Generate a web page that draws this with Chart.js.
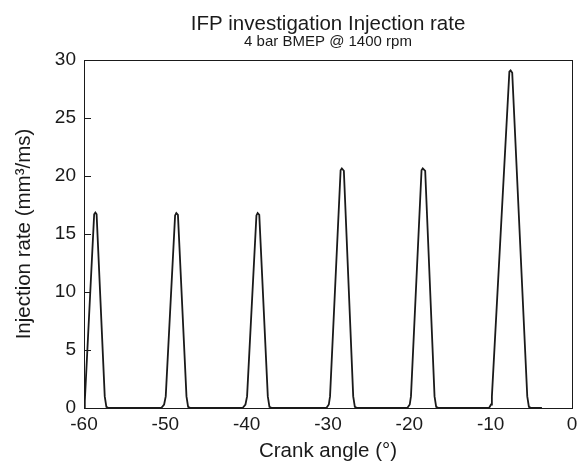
<!DOCTYPE html>
<html>
<head>
<meta charset="utf-8">
<script src="https://cdn.jsdelivr.net/npm/chart.js@4"></script>
<style>
  html, body { margin: 0; padding: 0; background: #fff; }
  #wrap { width: 577px; height: 462px; }
</style>
</head>
<body>
<div id="wrap"><canvas id="rateChart" width="577" height="462"></canvas></div>
<script>
// injection rate trace (crank angle in deg, rate in mm3/ms)
const crankAngle = [
  -60, -59.9, -58.75, -58.6, -58.45, -57.45, -57.25, -57.0,
  -50.5, -50.15, -49.95, -48.8, -48.65, -48.45, -47.4, -47.2, -46.9,
  -40.5, -40.15, -39.95, -38.8, -38.65, -38.45, -37.4, -37.2, -36.9,
  -30.2, -29.9, -29.75, -28.45, -28.3, -28.05, -26.9, -26.7, -26.4,
  -20.25, -19.95, -19.8, -18.5, -18.35, -18.05, -16.9, -16.7, -16.4,
  -10.2, -9.95, -9.85, -7.7, -7.55, -7.35, -5.5, -5.3, -5.0, -3.7
];
const injectionRate = [
  0, 0.6, 16.7, 16.85, 16.7, 1.0, 0.1, 0,
  0, 0.3, 1.0, 16.6, 16.8, 16.65, 1.0, 0.1, 0,
  0, 0.3, 1.0, 16.6, 16.8, 16.65, 1.0, 0.1, 0,
  0, 0.3, 1.0, 20.5, 20.65, 20.45, 1.0, 0.1, 0,
  0, 0.3, 1.0, 20.5, 20.65, 20.45, 1.0, 0.1, 0,
  0, 0.3, 1.0, 29.0, 29.1, 28.9, 1.0, 0.1, 0, 0
];
const xTicks = [-60, -50, -40, -30, -20, -10, 0];
const yTicks = [0, 5, 10, 15, 20, 25, 30];

const ink = '#1a1a1a';
const font = 'Liberation Sans, Arial, Helvetica, sans-serif';

// box around the plot plus small inward ticks on the left axis
const frame = {
  id: 'frame',
  afterDraw(chart) {
    const { ctx, chartArea: a, scales } = chart;
    ctx.save();
    ctx.strokeStyle = ink;
    ctx.lineWidth = 1;
    ctx.strokeRect(a.left + 0.5, a.top + 0.5, a.right - a.left, a.bottom - a.top);
    ctx.beginPath();
    yTicks.slice(1, -1).forEach(v => {
      const y = Math.round(scales.y.getPixelForValue(v)) + 0.5;
      ctx.moveTo(a.left, y);
      ctx.lineTo(a.left + 7, y);
    });
    ctx.stroke();
    ctx.restore();
  }
};

new Chart(document.getElementById('rateChart').getContext('2d'), {
  type: 'line',
  data: {
    datasets: [{
      data: crankAngle.map((a, i) => ({ x: a, y: injectionRate[i] })),
      borderColor: ink,
      borderWidth: 1.8,
      pointRadius: 0,
      tension: 0
    }]
  },
  options: {
    responsive: false,
    animation: false,
    layout: { padding: { left: 0, right: 0, top: 0, bottom: 0 } },
    plugins: {
      legend: { display: false },
      tooltip: { enabled: false },
      title: {
        display: true,
        fullSize: false,
        text: 'IFP investigation Injection rate',
        color: ink,
        font: { family: font, size: 20.5, weight: 'normal', lineHeight: 1 },
        padding: { top: 14, bottom: 0 }
      },
      subtitle: {
        display: true,
        fullSize: false,
        text: '4 bar BMEP @ 1400 rpm',
        color: ink,
        font: { family: font, size: 15, weight: 'normal', lineHeight: 1 },
        padding: { top: 0, bottom: 10.5 }
      }
    },
    scales: {
      x: {
        type: 'linear',
        min: -60,
        max: 0,
        afterBuildTicks: s => { s.ticks = xTicks.map(v => ({ value: v })); },
        afterFit: s => { s.height = 54; s.paddingRight = 5; },
        ticks: { color: ink, font: { family: font, size: 19 }, padding: 5, maxRotation: 0 },
        grid: { display: false, drawTicks: false },
        border: { display: false },
        title: {
          display: true,
          text: 'Crank angle (°)',
          color: ink,
          font: { family: font, size: 20.5, lineHeight: 1 },
          padding: { top: 4, bottom: 0 }
        }
      },
      y: {
        min: 0,
        max: 30,
        afterBuildTicks: s => { s.ticks = yTicks.map(v => ({ value: v })); },
        afterFit: s => { s.width = 84; },
        ticks: { color: ink, font: { family: font, size: 19 }, padding: 8 },
        grid: { display: false, drawTicks: false },
        border: { display: false },
        title: {
          display: true,
          text: 'Injection rate (mm³/ms)',
          color: ink,
          font: { family: font, size: 20.5, lineHeight: 1 },
          padding: { top: 14, bottom: 4 }
        }
      }
    }
  },
  plugins: [frame]
});
</script>
</body>
</html>
